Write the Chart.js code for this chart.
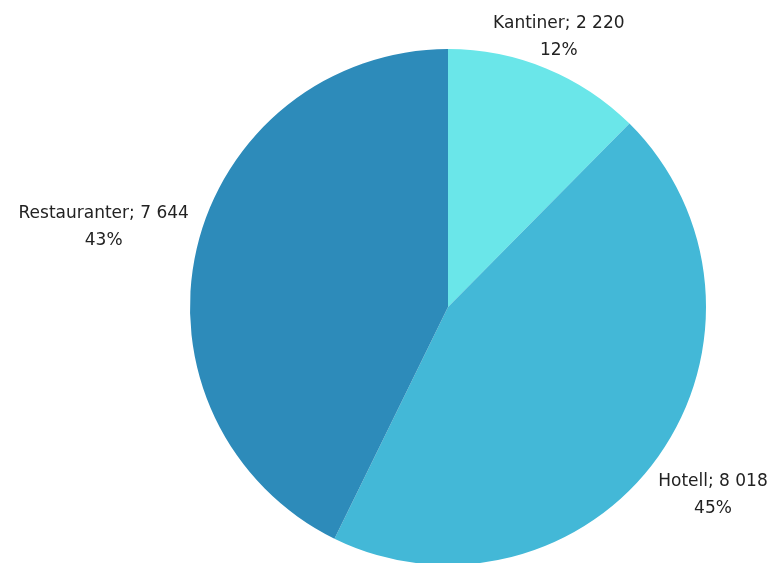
<!DOCTYPE html>
<html lang="no">
<head>
  <meta charset="UTF-8">
  <title>Kantiner, hotell og restauranter</title>
  <script src="https://cdn.jsdelivr.net/npm/chart.js"></script>
  <style>
    body { margin: 0; background: #fff; }
    #wrap { width: 777px; height: 563px; position: relative; }
  </style>
</head>
<body>
  <div id="wrap"><canvas id="chart"></canvas></div>

  <script>
    const categories = ["Kantiner", "Hotell", "Restauranter"];
    const values = [2220, 8018, 7644];
    const colors = ["#6AE6E9", "#43B8D7", "#2D8BBA"];
    // how far out each label sits, relative to the radius
    const labelDist = [1.13, 1.26, 1.37];

    function fmt(n) {
      return String(n).replace(/\B(?=(\d{3})+(?!\d))/g, " ");
    }

    const outsideLabels = {
      id: "outsideLabels",
      afterDatasetsDraw(chart) {
        const ctx = chart.ctx;
        const meta = chart.getDatasetMeta(0);
        const total = values.reduce((a, b) => a + b, 0);
        ctx.save();
        ctx.font = "17px 'DejaVu Sans'";
        ctx.fillStyle = "#222";
        ctx.textAlign = "center";
        ctx.textBaseline = "middle";
        meta.data.forEach((arc, i) => {
          const mid = (arc.startAngle + arc.endAngle) / 2;
          const d = arc.outerRadius * labelDist[i];
          const x = arc.x + Math.cos(mid) * d;
          const y = arc.y + Math.sin(mid) * d;
          const pct = Math.round(values[i] / total * 100) + "%";
          ctx.fillText(categories[i] + "; " + fmt(values[i]), x, y - 13.5);
          ctx.fillText(pct, x, y + 13.5);
        });
        ctx.restore();
      }
    };

    new Chart(document.getElementById("chart"), {
      type: "pie",
      data: {
        labels: categories,
        datasets: [{
          data: values,
          backgroundColor: colors,
          borderWidth: 0
        }]
      },
      options: {
        responsive: true,
        maintainAspectRatio: false,
        animation: false,
        radius: 258,
        layout: { padding: { left: 119, right: 0, top: 51, bottom: 0 } },
        plugins: {
          legend: { display: false },
          tooltip: { enabled: false }
        }
      },
      plugins: [outsideLabels]
    });
  </script>
</body>
</html>
